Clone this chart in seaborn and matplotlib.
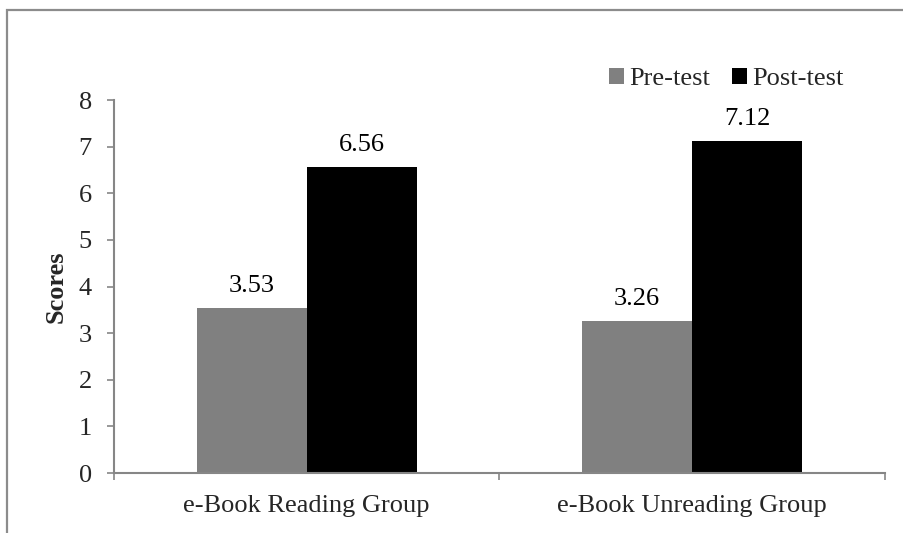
"""
Pre-test vs Post-test scores by e-Book group
"""

import numpy as np
import pandas as pd
import matplotlib
matplotlib.use("Agg")
import matplotlib.pyplot as plt
from matplotlib.patches import Rectangle
import seaborn as sns

# ============ DATA ============
GROUPS = ["e-Book Reading Group", "e-Book Unreading Group"]
TESTS = ["Pre-test", "Post-test"]
PRE_SCORES = [3.53, 3.26]
POST_SCORES = [6.56, 7.12]
Y_TICKS = [0, 1, 2, 3, 4, 5, 6, 7, 8]

COLORS = {"Pre-test": "#808080", "Post-test": "#000000"}
AXIS_GREY = "#868686"
FONT_SIZE = 19

sns.set_theme(style="white")
plt.rcParams['font.family'] = ['Liberation Serif', 'DejaVu Serif']

df = pd.DataFrame({
    "group": GROUPS * 2,
    "test": [TESTS[0]] * len(GROUPS) + [TESTS[1]] * len(GROUPS),
    "score": PRE_SCORES + POST_SCORES,
})

fig = plt.figure(figsize=(9.04, 5.33), dpi=100)
ax = fig.add_axes([114 / 904, 1 - 473 / 533, (885 - 114) / 904, (473 - 100) / 533])

sns.barplot(data=df, x="group", y="score", hue="test", order=GROUPS,
            hue_order=TESTS, palette=COLORS, width=0.571, gap=0,
            saturation=1, errorbar=None, linewidth=0, ax=ax, legend=True)

# value labels above each bar
for container in ax.containers:
    ax.bar_label(container, labels=[f"{v:.2f}" for v in container.datavalues],
                 padding=8, fontsize=FONT_SIZE, color="black")

ax.set_ylim(0, 8)
ax.set_yticks(Y_TICKS)
ax.set_xlim(-0.5, len(GROUPS) - 0.5)
ax.set_xticks(range(len(GROUPS)))
ax.set_xticklabels(GROUPS)
ax.set_xticks(np.arange(-0.5, len(GROUPS), 1.0), minor=True)

ax.tick_params(axis="y", which="major", length=5, width=1.2, color=AXIS_GREY,
               direction="out", pad=11, labelsize=FONT_SIZE, left=True)
ax.tick_params(axis="x", which="major", length=0, pad=16, labelsize=FONT_SIZE)
ax.tick_params(axis="x", which="minor", length=5, width=1.2, color=AXIS_GREY,
               direction="out", bottom=True)

ax.set_xlabel("")
ax.set_ylabel("Scores", fontsize=FONT_SIZE, fontweight="bold", labelpad=8)

for side in ["top", "right"]:
    ax.spines[side].set_visible(False)
for side in ["left", "bottom"]:
    ax.spines[side].set_color(AXIS_GREY)
    ax.spines[side].set_linewidth(1.5)

# legend across the top right
handles, labels = ax.get_legend_handles_labels()
ax.legend(handles, labels, loc="center left", ncol=2, frameon=False,
          bbox_to_anchor=(609 / 904, 1 - 79 / 533), bbox_transform=fig.transFigure,
          fontsize=FONT_SIZE, handlelength=0.55, handleheight=0.55,
          handletextpad=0.2, columnspacing=0.85, borderpad=0, borderaxespad=0)

# chart border (cropped at right and bottom)
fig.patches.append(Rectangle((7 / 904, -0.1), 1.2, 1.1 - 10 / 533,
                             transform=fig.transFigure, fill=False,
                             edgecolor="#8c8c8c", linewidth=1.6))

fig.savefig("out.png", dpi=100)
